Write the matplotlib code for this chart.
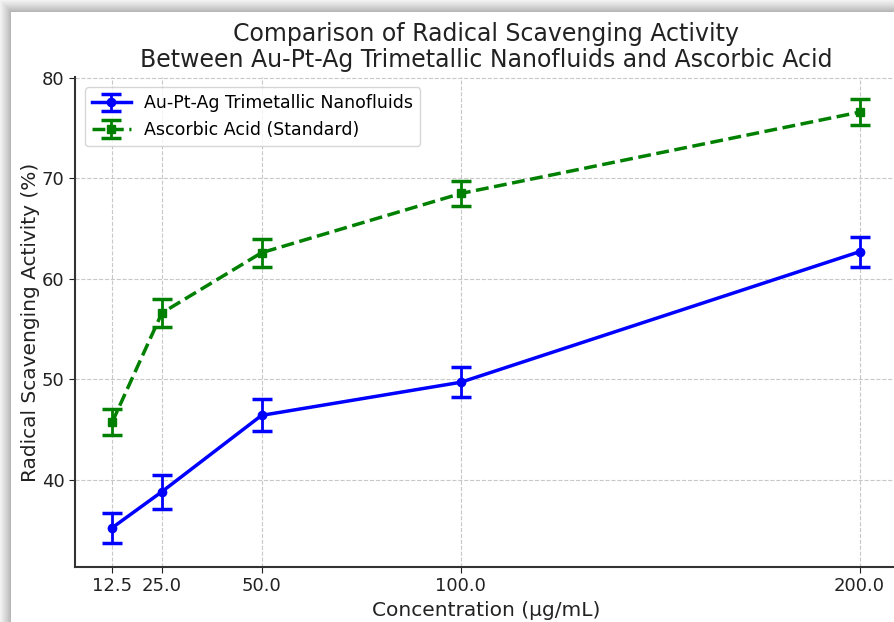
import numpy as np
import matplotlib.pyplot as plt

# concentrations (ug/mL)
conc = [12.5, 25.0, 50.0, 100.0, 200.0]

# radical scavenging activity (%)
nano_mean = [35.2, 38.8, 46.4, 49.7, 62.7]
nano_err = [1.5, 1.7, 1.6, 1.5, 1.5]
asc_mean = [45.7, 56.6, 62.6, 68.5, 76.6]
asc_err = [1.3, 1.4, 1.4, 1.2, 1.3]

W, H = 895, 622
fig = plt.figure(figsize=(W / 100, H / 100), dpi=100)
fig.patch.set_facecolor('white')

# soft drop shadow along the left and top edges of the screenshot
edge_x, edge_y = 11, 12
xx = np.arange(W)[None, :] * np.ones((H, 1))
yy = np.arange(H)[:, None] * np.ones((1, W))
dx = np.clip((edge_x - xx) / edge_x, 0, 1)
dy = np.clip((edge_y - yy) / edge_y, 0, 1)
shade = np.maximum(dx, dy)
inside = (xx < edge_x) | (yy < edge_y)
g = np.where(inside, 0.68 + 0.27 * shade ** 0.8, 1.0)
bg = np.dstack([g, g, g])
fig.figimage(bg, xo=0, yo=0, origin='upper', zorder=-5)

ax = fig.add_axes([75 / W, 1 - 567 / H, (897 - 75) / W, (567 - 77) / H])
ax.set_facecolor('none')

ax.errorbar(conc, nano_mean, yerr=nano_err, fmt='-o', color='blue',
            linewidth=2.5, markersize=6, capsize=7, elinewidth=2, capthick=2.5,
            label='Au-Pt-Ag Trimetallic Nanofluids')
ax.errorbar(conc, asc_mean, yerr=asc_err, fmt='--s', color='green',
            linewidth=2.5, markersize=6, capsize=7, elinewidth=2, capthick=2.5,
            label='Ascorbic Acid (Standard)')

ax.set_xticks(conc)
ax.set_xticklabels(['12.5', '25.0', '50.0', '100.0', '200.0'])
ax.set_yticks([40, 50, 60, 70, 80])
ax.set_xlim(3.2, 209.4)
ax.set_ylim(31.3, 80.1)

ax.grid(True, linestyle='--', color='#c8c8c8', linewidth=0.8)
ax.spines['top'].set_visible(False)
ax.spines['right'].set_visible(False)
for s in ['left', 'bottom']:
    ax.spines[s].set_color('#333333')
    ax.spines[s].set_linewidth(1.5)
ax.tick_params(labelsize=13, colors='#222222', length=4)

ax.set_xlabel('Concentration (µg/mL)', fontsize=14.5, color='#222222', labelpad=4)
ax.set_ylabel('Radical Scavenging Activity (%)', fontsize=14.5, color='#222222',
              labelpad=1)
fig.text(486 / W, 1 - 47 / H,
         'Comparison of Radical Scavenging Activity\nBetween Au-Pt-Ag Trimetallic Nanofluids and Ascorbic Acid',
         ha='center', va='center', fontsize=17, color='#222222', linespacing=1.1)

ax.legend(loc='upper left', fontsize=12.5, frameon=True, edgecolor='#cccccc',
          borderaxespad=0.6, handlelength=2.2)

fig.savefig('out.png', dpi=100)
